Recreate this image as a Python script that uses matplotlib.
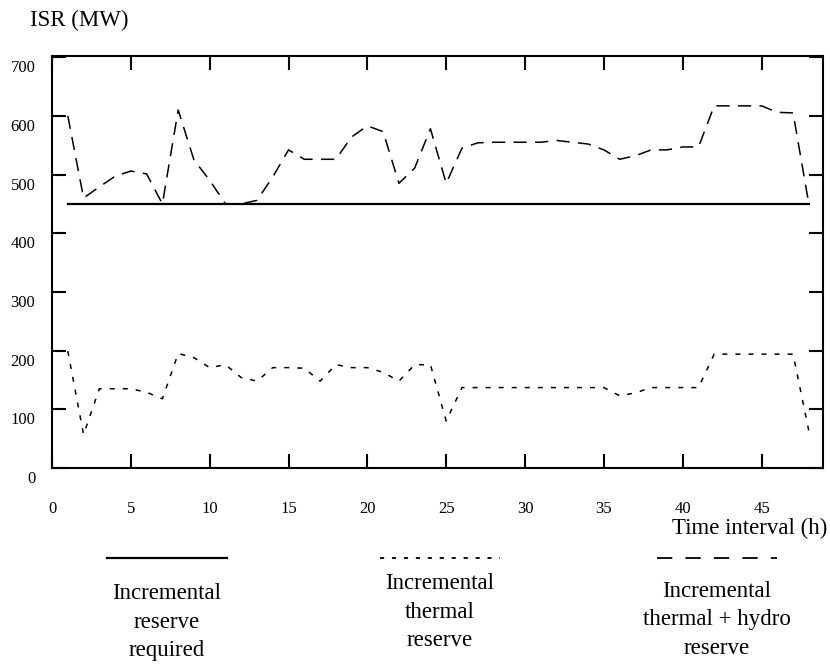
import numpy as np
import matplotlib.pyplot as plt
from matplotlib.lines import Line2D
from matplotlib.transforms import ScaledTranslation

plt.rcParams['font.family'] = ['Liberation Serif', 'DejaVu Serif']

# -----------------------------
# Data
# -----------------------------
hours = list(range(1, 49))

# incremental reserve required
required = [450] * 48

# incremental thermal reserve
thermal = [199, 57, 135, 135, 135, 129, 118, 195, 188, 171,
           176, 154, 148, 171, 171, 170, 148, 176, 171, 171,
           163, 148, 176, 176, 80, 137, 137, 137, 137, 137,
           137, 137, 137, 137, 137, 123, 128, 137, 137, 137,
           137, 194, 194, 194, 194, 194, 194, 63]

# incremental thermal + hydro reserve
thermal_hydro = [600, 460, 479, 497, 506, 501, 450, 610, 525, 490,
                 450, 450, 456, 496, 542, 526, 526, 526, 564, 583,
                 573, 485, 511, 578, 485, 545, 554, 555, 555, 555,
                 555, 558, 555, 552, 542, 526, 532, 542, 542, 547,
                 547, 617, 617, 617, 617, 606, 605, 450]

xticks = [0, 5, 10, 15, 20, 25, 30, 35, 40, 45]
yticks = [0, 100, 200, 300, 400, 500, 600, 700]

# -----------------------------
# Figure
# -----------------------------
fig = plt.figure(figsize=(8.3, 6.64), dpi=100)
ax = fig.add_axes([0.0627, 0.2952, 0.9289, 0.6205])

lw_d = 1.1
ax.plot(hours, required, color="black", linewidth=1.6)
ax.plot(hours, thermal, color="black", linewidth=lw_d,
        linestyle=(0, (3.6 / lw_d, 5.8 / lw_d)))
ax.plot(hours, thermal_hydro, color="black", linewidth=lw_d,
        linestyle=(0, (9.5 / lw_d, 6.0 / lw_d)))

ax.set_xlim(0, 48.9)
ax.set_ylim(0, 702)
ax.set_xticks(xticks)
ax.set_yticks(yticks)

for s in ax.spines.values():
    s.set_linewidth(1.5)
ax.tick_params(direction="in", length=10, width=1.5, top=True, right=True,
               labelsize=12)
ax.tick_params(axis="x", pad=24)
ax.tick_params(axis="y", pad=12)

# y labels sit a little below their ticks
for lab in ax.get_yticklabels():
    lab.set_transform(lab.get_transform()
                      + ScaledTranslation(0, -9 / 100, fig.dpi_scale_trans))

fig.text(30 / 830, 1 - 20 / 664, "ISR (MW)", fontsize=16.5,
         ha="left", va="center")
fig.text(827 / 830, 1 - 528 / 664, "Time interval (h)", fontsize=16.5,
         ha="right", va="center")

# -----------------------------
# Legend drawn under the chart
# -----------------------------
leg_y = 1 - 558 / 664
items = [
    (167, "-", 1.6, "Incremental\nreserve\nrequired", 622),
    (440, (0, (3.0 / 1.3, 5.6 / 1.3)), 1.3, "Incremental\nthermal\nreserve", 612),
    (717, (0, (11.0 / 1.3, 9.5 / 1.3)), 1.3, "Incremental\nthermal + hydro\nreserve", 620),
]
for cx, ls, lw, txt, ty in items:
    fig.add_artist(Line2D([(cx - 60) / 830, (cx + 60) / 830], [leg_y, leg_y],
                          transform=fig.transFigure, color="black",
                          linewidth=lw, linestyle=ls))
    fig.text(cx / 830, 1 - ty / 664, txt, fontsize=16.5, ha="center",
             va="center", linespacing=1.45)

fig.savefig("out.png", dpi=100)
